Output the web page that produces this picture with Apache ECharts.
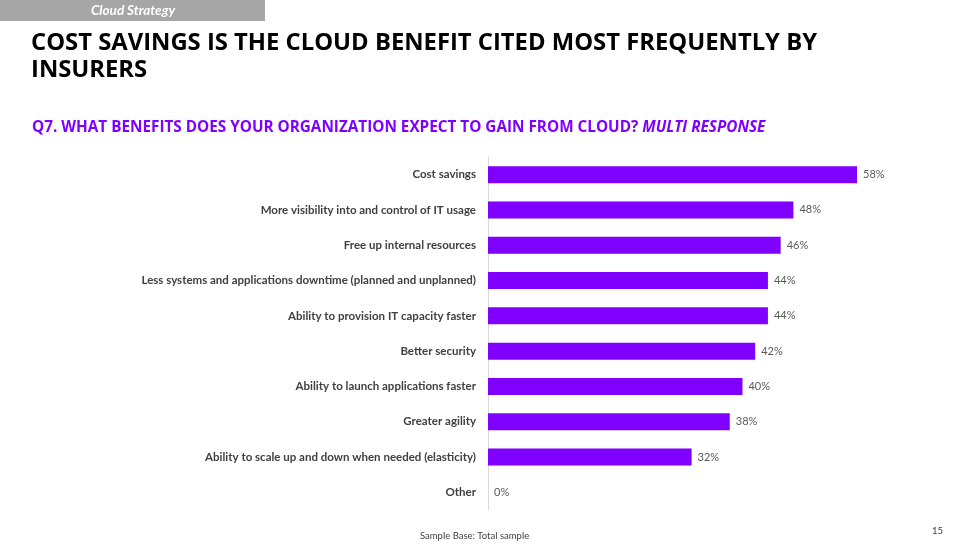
<!DOCTYPE html>
<html lang="en">
<head>
    <meta charset="utf-8">
    <title>Cloud benefits</title>
    <script src="https://cdn.jsdelivr.net/npm/echarts@6/dist/echarts.min.js"></script>
    <style>
        * { margin: 0; padding: 0; }
        html, body { background: #fff; }
        #main { width: 975px; height: 548px; }
    </style>
</head>
<body>
<div id="main"></div>
<script>
    // chart data
    const benefits = [
        'Cost savings',
        'More visibility into and control of IT usage',
        'Free up internal resources',
        'Less systems and applications downtime (planned and unplanned)',
        'Ability to provision IT capacity faster',
        'Better security',
        'Ability to launch applications faster',
        'Greater agility',
        'Ability to scale up and down when needed (elasticity)',
        'Other'
    ];
    const shares = [58, 48, 46, 44, 44, 42, 40, 38, 32, 0];

    const FONT = 'Lato, "Open Sans", sans-serif';
    const HEAD_FONT = '"Open Sans", Lato, sans-serif';
    const purple = '#7f00ff';

    var myChart = echarts.init(document.getElementById('main'), null, { renderer: 'canvas' });

    const option = {
        backgroundColor: '#fff',
        animation: false,
        textStyle: { fontFamily: FONT },
        title: [
            {
                text: 'COST SAVINGS IS THE CLOUD BENEFIT CITED MOST FREQUENTLY BY\nINSURERS',
                left: 31, top: 30, padding: 0,
                textStyle: { fontFamily: HEAD_FONT, fontSize: 23.8, fontWeight: 'bold', color: '#000', lineHeight: 27 }
            },
            {
                text: '{a|Q7. WHAT BENEFITS DOES YOUR ORGANIZATION EXPECT TO GAIN FROM CLOUD? }{b|MULTI RESPONSE}',
                left: 32, top: 120, padding: 0,
                textStyle: {
                    rich: {
                        a: { fontFamily: HEAD_FONT, fontSize: 15.3, fontWeight: 'bold', color: purple },
                        b: { fontFamily: HEAD_FONT, fontSize: 15.3, fontWeight: 'bold', fontStyle: 'italic', color: purple }
                    }
                }
            }
        ],
        graphic: [
            {
                type: 'rect',
                shape: { x: 0, y: 0, width: 265, height: 21 },
                style: { fill: '#a6a6a6' }
            },
            {
                type: 'text',
                x: 133, y: 11,
                style: {
                    text: 'Cloud Strategy', fill: '#fff', align: 'center', verticalAlign: 'middle',
                    font: 'italic bold 13.5px ' + FONT
                }
            },
            {
                type: 'text',
                x: 420, y: 536,
                style: { text: 'Sample Base: Total sample', fill: '#404040', verticalAlign: 'middle', font: '9.5px ' + FONT }
            },
            {
                type: 'text',
                x: 932, y: 531,
                style: { text: '15', fill: '#404040', verticalAlign: 'middle', font: '9.5px ' + FONT }
            }
        ],
        grid: { left: 488, right: 118, top: 157, bottom: 38 },
        xAxis: {
            type: 'value',
            min: 0,
            max: 58,
            show: false
        },
        yAxis: {
            type: 'category',
            inverse: true,
            data: benefits,
            axisLine: { show: true, lineStyle: { color: '#d9d9d9', width: 1 } },
            axisTick: { show: false },
            axisLabel: { margin: 12, fontSize: 11.5, fontWeight: 'bold', color: '#404040', fontFamily: FONT }
        },
        series: [
            {
                type: 'bar',
                data: shares,
                barWidth: 17,
                itemStyle: { color: purple },
                label: {
                    show: true,
                    position: 'right',
                    distance: 6,
                    formatter: '{c}%',
                    fontSize: 11,
                    color: '#595959',
                    fontFamily: FONT
                }
            }
        ]
    };

    myChart.setOption(option);
</script>
</body>
</html>
